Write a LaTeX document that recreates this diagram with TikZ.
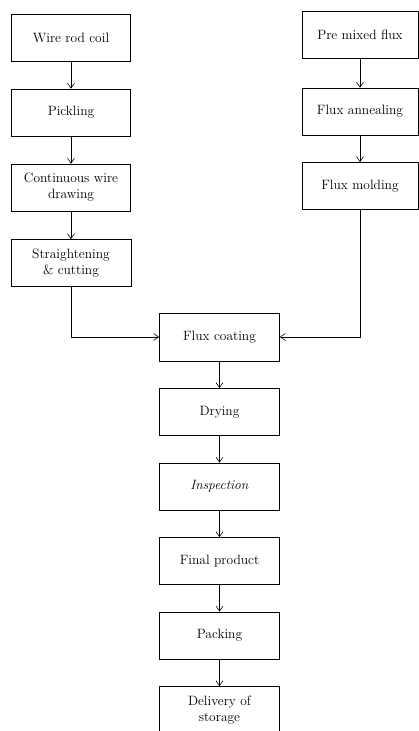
\documentclass[tikz,border=0pt]{standalone}
\usepackage{amsmath}
\usepackage{tikz}
\usetikzlibrary{arrows.meta}

\begin{document}
\begin{tikzpicture}[x=1pt,y=-1pt,
    stage/.style={draw, line width=0.7pt, minimum width=119pt, minimum height=47pt,
                  align=center, inner sep=2pt, font=\fontsize{13.5}{16}\selectfont},
    flow/.style={-{Straight Barb[length=5pt,width=7pt]}, line width=0.6pt}]
       \useasboundingbox (0,0) rectangle (419,731);

       % wire side
       \node[stage](coil) at (71,38) {Wire rod coil};
       \node[stage](pickle) at (71,112.5) {Pickling};
       \node[stage](wiredraw) at (71,187.5) {Continuous wire\\drawing};
       \node[stage, minimum width=120pt](cutting) at (71,263) {Straightening\\\& cutting};

       % flux side
       \node[stage, minimum width=116pt](premix) at (360,35) {Pre mixed flux};
       \node[stage, minimum width=116pt](anneal) at (360,111.5) {Flux annealing};
       \node[stage, minimum width=116pt](mold) at (360,186) {Flux molding};

       % main line
       \node[stage, minimum width=120pt, minimum height=48pt](coat) at (219.5,337) {Flux coating};
       \node[stage, minimum width=120pt](dry) at (219.5,412) {Drying};
       \node[stage, minimum width=120pt](inspect) at (219.5,486.5) {\textit{Inspection}};
       \node[stage, minimum width=120pt](final) at (219.5,561) {Final product};
       \node[stage, minimum width=120pt](pack) at (219.5,635.5) {Packing};
       \node[stage, minimum width=120pt](deliver) at (219.5,710) {Delivery of\\storage};

       \draw[flow] (coil) -- (pickle);
       \draw[flow] (pickle) -- (wiredraw);
       \draw[flow] (wiredraw) -- (cutting);

       \draw[flow] (premix) -- (anneal);
       \draw[flow] (anneal) -- (mold);

       \draw[flow] (cutting.south) |- (coat.west);
       \draw[flow] (mold.south) |- (coat.east);

       \draw[flow] (coat) -- (dry);
       \draw[flow] (dry) -- (inspect);
       \draw[flow] (inspect) -- (final);
       \draw[flow] (final) -- (pack);
       \draw[flow] (pack) -- (deliver);
      \end{tikzpicture}
\end{document}
